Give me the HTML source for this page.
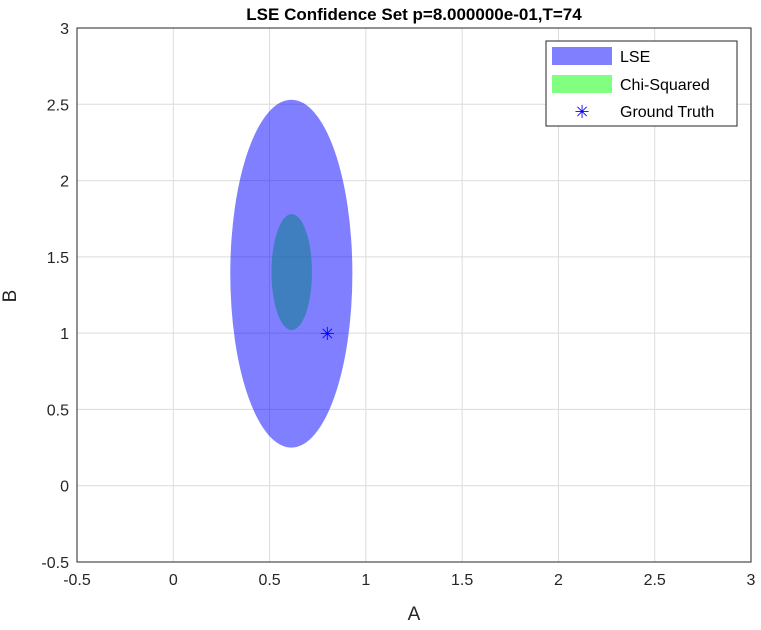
<!DOCTYPE html>
<html><head><meta charset="utf-8"><style>
body{margin:0;background:#fff;font-family:"Liberation Sans",sans-serif}
svg text{font-family:"Liberation Sans",sans-serif}
</style></head><body>
<svg id="chart" width="761" height="625" viewBox="0 0 761 625">
<rect x="0" y="0" width="761" height="625" fill="#fff"/>
<g id="grid"></g>
<g id="marks"></g>
<rect x="77" y="28" width="674" height="534" fill="none" stroke="#262626" stroke-width="1"/>
<g id="ticks"></g>
<text x="414" y="20" text-anchor="middle" font-size="17" font-weight="bold" fill="#000">LSE Confidence Set p=8.000000e-01,T=74</text>
<text x="414" y="620" text-anchor="middle" font-size="19" fill="#262626">A</text>
<text x="16" y="296" text-anchor="middle" font-size="19" fill="#262626" transform="rotate(-90 16 296)">B</text>
<g>
<rect x="546" y="41" width="191" height="85" fill="#fff" stroke="#262626" stroke-width="1"/>
<rect x="552" y="47" width="60" height="18" fill="rgb(128,128,255)"/>
<text x="620" y="62" font-size="16" fill="#000">LSE</text>
<rect x="552" y="75" width="60" height="18" fill="rgb(128,255,128)"/>
<text x="620" y="90" font-size="16" fill="#000">Chi-Squared</text>
<text x="582" y="118" text-anchor="middle" font-size="18" fill="#0000ff">✳</text>
<text x="620" y="117" font-size="16" fill="#000">Ground Truth</text>
</g>
</svg>
<script>
const xTicks=[-0.5,0,0.5,1,1.5,2,2.5,3];
const yTicks=[-0.5,0,0.5,1,1.5,2,2.5,3];
const xTickLabels=["-0.5","0","0.5","1","1.5","2","2.5","3"];
const yTickLabels=["-0.5","0","0.5","1","1.5","2","2.5","3"];
// ellipse regions: [centerA, centerB, radiusA, radiusB]
const chiRegion=[0.615,1.40,0.105,0.38];
const lseRegion=[0.613,1.39,0.317,1.14];
const truthPoint=[0.8,1.0];
const NS="http://www.w3.org/2000/svg";
const X0=77,X1=751,Y0=562,Y1=28;
function sx(v){return X0+(v+0.5)/3.5*(X1-X0);}
function sy(v){return Y0-(v+0.5)/3.5*(Y0-Y1);}
const grid=document.getElementById('grid'),ticks=document.getElementById('ticks'),marks=document.getElementById('marks');
function mk(t,a,p){const e=document.createElementNS(NS,t);for(const k in a)e.setAttribute(k,a[k]);p.appendChild(e);return e;}
xTicks.forEach((v,i)=>{
 const l=mk('line',{x1:sx(v),x2:sx(v),y1:Y1,y2:Y0,stroke:'#dcdcdc','stroke-width':1},grid);
 
 
 const t=mk('text',{x:sx(v),y:Y0+23,'text-anchor':'middle','font-size':16,fill:'#262626'},ticks);
 t.textContent=xTickLabels[i];
 
 
});
yTicks.forEach((v,i)=>{
 const l=mk('line',{x1:X0,x2:X1,y1:sy(v),y2:sy(v),stroke:'#dcdcdc','stroke-width':1},grid);
 
 
 const t=mk('text',{x:X0-8,y:sy(v)+6,'text-anchor':'end','font-size':16,fill:'#262626'},ticks);
 t.textContent=yTickLabels[i];
 
 
});
function ell(r,fill,name){
 const e=mk('ellipse',{cx:sx(r[0]),cy:sy(r[1]),rx:Math.abs(sx(r[0]+r[2])-sx(r[0])),ry:Math.abs(sy(r[1]+r[3])-sy(r[1])),fill:fill},marks);
 
 
}
ell(chiRegion,'rgba(0,255,0,0.5)','chi-squared-region');
ell(lseRegion,'rgba(0,0,255,0.5)','lse-region');
const st=mk('text',{x:sx(truthPoint[0]),y:sy(truthPoint[1])+7,'text-anchor':'middle','font-size':18,fill:'#0000ff'},marks);
st.textContent='✳';


</script>
</body></html>
